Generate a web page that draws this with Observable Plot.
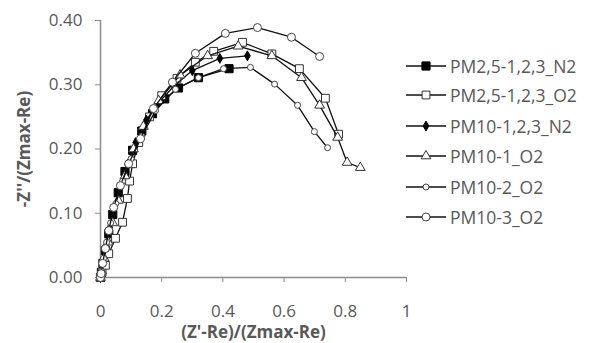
<!DOCTYPE html>
<html>
<head>
<meta charset="utf-8">
<script src="https://cdn.jsdelivr.net/npm/d3@7"></script>
<script src="https://cdn.jsdelivr.net/npm/@observablehq/plot@0.6"></script>
<style>
  html, body { margin: 0; padding: 0; background: #fff; }
  #wrap { position: relative; width: 595px; height: 343px; overflow: hidden; font-family: "Open Sans", sans-serif; }
  #wrap svg.plot text { fill: #595959; }
  #wrap [aria-label="x-axis label"] text, #wrap [aria-label="y-axis label"] text { font-weight: bold; fill: #404040; }
  .leg { position: absolute; left: 0; top: 0; }
  .row { position: absolute; height: 20px; display: flex; align-items: center; font-size: 17.5px; color: #595959; white-space: nowrap; }
  .row svg { margin-right: 4px; }
</style>
</head>
<body>
<div id="wrap"></div>
<script>
const seriesNames = ["PM2,5-1,2,3_N2", "PM2,5-1,2,3_O2", "PM10-1,2,3_N2", "PM10-1_O2", "PM10-2_O2", "PM10-3_O2"];

const pm25N2 = [[0,0],[0.003,0.008],[0.008,0.022],[0.016,0.042],[0.027,0.068],[0.04,0.098],[0.058,0.132],[0.08,0.165],[0.105,0.198],[0.135,0.228],[0.17,0.255],[0.21,0.278],[0.255,0.295],[0.32,0.311],[0.42,0.325]];
const pm25O2 = [[0,0],[0.005,0.008],[0.016,0.019],[0.027,0.037],[0.049,0.061],[0.072,0.086],[0.088,0.123],[0.095,0.15],[0.105,0.177],[0.125,0.21],[0.16,0.25],[0.2,0.283],[0.25,0.31],[0.31,0.335],[0.37,0.352],[0.464,0.366],[0.56,0.348],[0.65,0.325],[0.735,0.279],[0.778,0.223]];
const pm10N2 = [[0,0],[0.003,0.009],[0.009,0.025],[0.018,0.048],[0.03,0.077],[0.045,0.108],[0.065,0.142],[0.088,0.176],[0.115,0.21],[0.15,0.245],[0.19,0.272],[0.24,0.298],[0.3,0.322],[0.39,0.341],[0.48,0.345]];
const pm10_1O2 = [[0,0],[0.004,0.01],[0.012,0.03],[0.025,0.055],[0.04,0.085],[0.058,0.12],[0.08,0.158],[0.108,0.2],[0.14,0.235],[0.19,0.275],[0.26,0.315],[0.35,0.345],[0.45,0.36],[0.56,0.345],[0.657,0.311],[0.716,0.268],[0.775,0.218],[0.806,0.179],[0.849,0.171]];
const pm10_2O2 = [[0,0],[0.003,0.01],[0.01,0.03],[0.02,0.055],[0.033,0.085],[0.05,0.115],[0.072,0.15],[0.1,0.185],[0.135,0.22],[0.18,0.26],[0.245,0.293],[0.32,0.311],[0.402,0.325],[0.49,0.327],[0.569,0.301],[0.644,0.268],[0.699,0.227],[0.742,0.202]];
const pm10_3O2 = [[0,0],[0.002,0.006],[0.007,0.022],[0.016,0.045],[0.027,0.073],[0.043,0.109],[0.065,0.143],[0.092,0.177],[0.131,0.216],[0.173,0.263],[0.235,0.304],[0.31,0.349],[0.408,0.38],[0.513,0.389],[0.624,0.374],[0.716,0.344]];

const seriesData = [pm25N2, pm25O2, pm10N2, pm10_1O2, pm10_2O2, pm10_3O2];
const xTicks = [0, 0.2, 0.4, 0.6, 0.8, 1];
const yTicks = [0, 0.1, 0.2, 0.3, 0.4];
const xLabel = "(Z'-Re)/(Zmax-Re)";
const yLabel = "-Z''/(Zmax-Re)";

// marker styles per series
const styles = [
  {symbol: "square", r: 4.6, fill: "#000", stroke: "#000"},
  {symbol: "square", r: 4.4, fill: "#fff", stroke: "#333"},
  {symbol: "diamond", r: 3, fill: "#000", stroke: "#000"},
  {symbol: "triangle", r: 3.6, fill: "#fff", stroke: "#333"},
  {symbol: "circle", r: 3, fill: "#fff", stroke: "#444"},
  {symbol: "circle", r: 4, fill: "#fff", stroke: "#444"}
];

const rows = seriesData.map((arr, i) => arr.map(([x, y]) => ({series: seriesNames[i], x, y})));

const marks = [
  Plot.ruleY([0], {stroke: "#8c8c8c", strokeWidth: 1.5}),
  Plot.ruleX([0], {stroke: "#8c8c8c", strokeWidth: 1.5}),
  Plot.axisX({ticks: xTicks, tickSize: 5, tickPadding: 22, tickFormat: d => String(d), stroke: "#8c8c8c", label: xLabel, labelAnchor: "center", labelArrow: "none", labelOffset: 60}),
  Plot.axisY({ticks: yTicks, tickSize: 5, tickPadding: 13, tickFormat: d3.format(".2f"), stroke: "#8c8c8c", label: yLabel, labelAnchor: "center", labelArrow: "none", labelOffset: 83})
];
rows.forEach((r, i) => {
  const s = styles[i];
  marks.push(Plot.line(r, {x: "x", y: "y", stroke: "#111", strokeWidth: 1.3}));
  marks.push(Plot.dot(r, {x: "x", y: "y", symbol: () => s.symbol, r: s.r, fill: s.fill, stroke: s.stroke, strokeWidth: 1}));
});

const chart = Plot.plot({
  width: 595,
  height: 343,
  marginLeft: 100,
  marginRight: 189,
  marginTop: 20,
  marginBottom: 66,
  x: {domain: [0, 1]},
  y: {domain: [0, 0.4]},
  style: {fontFamily: "Open Sans", fontSize: "17px", background: "transparent", overflow: "visible"},
  marks
});
chart.classList.add("plot");
const wrap = document.getElementById("wrap");
wrap.appendChild(chart);

// legend
const leg = document.createElement("div");
leg.className = "leg";
const symMap = {square: d3.symbolSquare, diamond: d3.symbolDiamond, triangle: d3.symbolTriangle, circle: d3.symbolCircle};
const legTops = [66, 95, 126, 156, 187, 217];
seriesNames.forEach((name, i) => {
  const s = styles[i];
  const row = document.createElement("div");
  row.className = "row";
  row.style.left = "406px";
  row.style.top = (legTops[i] - 10) + "px";
  const path = d3.symbol(symMap[s.symbol], Math.PI * s.r * s.r)();
  row.innerHTML = `<svg width="40" height="20"><line x1="0" x2="40" y1="10" y2="10" stroke="#111" stroke-width="1.5"/><path d="${path}" transform="translate(20,10)" fill="${s.fill}" stroke="${s.stroke}"/></svg><span>${name}</span>`;
  leg.appendChild(row);
});
wrap.appendChild(leg);
</script>
</body>
</html>
